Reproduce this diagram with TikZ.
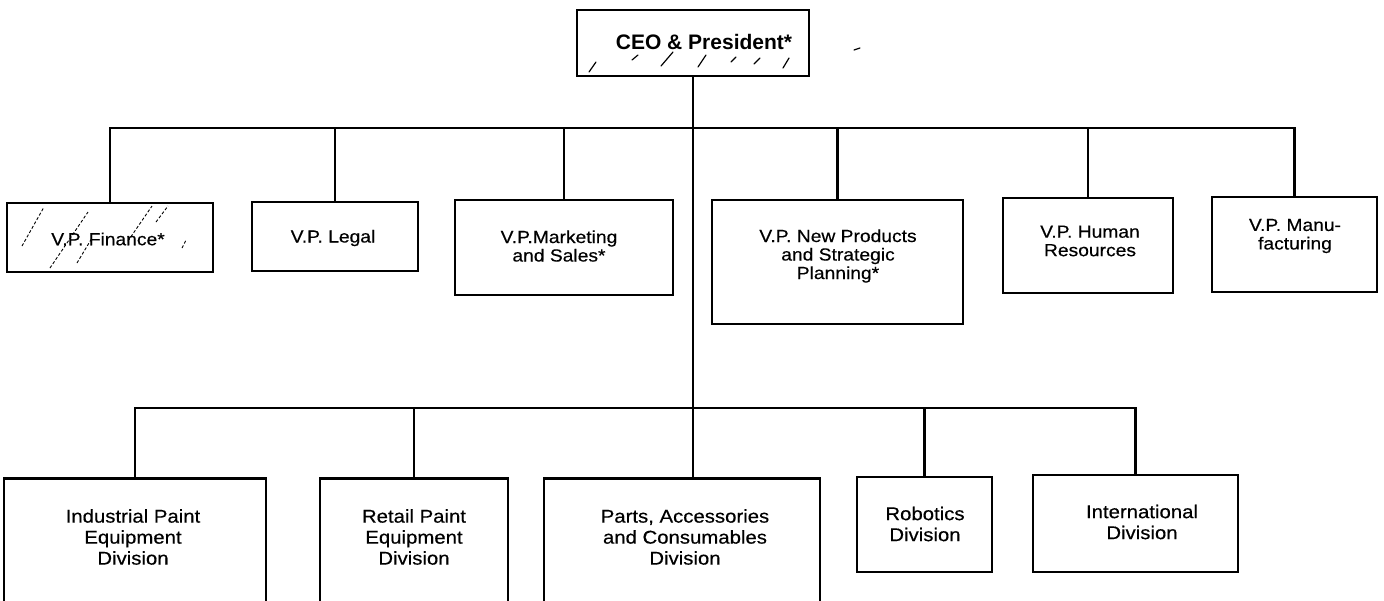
\documentclass[tikz,border=0pt]{standalone}
\usepackage{fontspec}
\setmainfont{Liberation Sans}
\newfontfamily\orgfont{Liberation Sans}[FakeStretch=1.1, FakeBold=0.4]
\begin{document}
\begin{tikzpicture}[x=1pt,y=-1pt,
  box/.style={draw, line width=2.6pt, rectangle, inner sep=0pt},
  vptxt/.style={inner sep=0pt, align=center, font=\orgfont\fontsize{17.5}{18.5}\selectfont},
  divtxt/.style={inner sep=0pt, align=center, font=\orgfont\fontsize{18.5}{21}\selectfont},
  conn/.style={line width=2.6pt, line cap=rect},
  hatch/.style={line width=0.9pt, dash pattern=on 3pt off 2pt},
  speck/.style={line width=1.2pt, line cap=round}]
\useasboundingbox (0,0) rectangle (1384,600);
\clip (0,0) rectangle (1384,600);

% top level
\node[box, minimum width=232, minimum height=66] (ceo) at (693,43) {};
\node[inner sep=0pt, font=\bfseries\fontsize{21}{24}\selectfont] (ceot) at (704,42) {CEO \& President*};

% vice presidents
\node[box, minimum width=206, minimum height=69] (fin) at (110,237.5) {};
\node[vptxt] (fint) at (108,239) {V.P. Finance*};
\node[box, minimum width=166, minimum height=69] (leg) at (335,236.5) {};
\node[vptxt] (legt) at (333,238) {V.P. Legal};
\node[box, minimum width=218, minimum height=95] (mkt) at (564,247.5) {};
\node[vptxt] (mktt) at (559,246) {V.P.Marketing\\and Sales*};
\node[box, minimum width=251, minimum height=124] (npr) at (837.5,262) {};
\node[vptxt] (nprt) at (838,256) {V.P. New Products\\and Strategic\\Planning*};
\node[box, minimum width=170, minimum height=95] (hrs) at (1088,245.5) {};
\node[vptxt] (hrst) at (1090,241) {V.P. Human\\Resources};
\node[box, minimum width=165, minimum height=95] (man) at (1294.5,244.5) {};
\node[vptxt] (mant) at (1295,236) {V.P. Manu-\\facturing};

% divisions (the large boxes run off the bottom edge)
\node[box, minimum width=262, minimum height=170, anchor=north] (ind) at (135,477) {};
\node[divtxt] (indt) at (133,537) {Industrial Paint\\Equipment\\Division};
\node[box, minimum width=188, minimum height=170, anchor=north] (ret) at (414,477) {};
\node[divtxt] (rett) at (414,537) {Retail Paint\\Equipment\\Division};
\node[box, minimum width=276, minimum height=170, anchor=north] (par) at (682,477) {};
\node[divtxt] (part) at (685,537) {Parts, Accessories\\and Consumables\\Division};
\node[box, minimum width=135, minimum height=95] (rob) at (924.5,524.5) {};
\node[divtxt] (robt) at (925,524) {Robotics\\Division};
\node[box, minimum width=205, minimum height=97] (int) at (1135.5,523.5) {};
\node[divtxt] (intt) at (1142,522) {International\\Division};

% bars
\coordinate (tb) at (0,128);
\coordinate (bb) at (0,408);

% connectors
\draw[conn] (ceo.south) -- (par.north -| ceo.south);
\draw[conn] (fin.north) |- (man.north |- tb) -- (man.north);
\draw[conn] (leg.north) -- (leg.north |- tb);
\draw[conn] (mkt.north) -- (mkt.north |- tb);
\draw[conn] (npr.north) -- (npr.north |- tb);
\draw[conn] (hrs.north) -- (hrs.north |- tb);
\draw[conn] (ind.north) |- (int.north |- bb) -- (int.north);
\draw[conn] (ret.north) -- (ret.north |- bb);
\draw[conn] (rob.north) -- (rob.north |- bb);

% scan hatching on the Finance box
\draw[hatch] (22,246) -- (44,207);
\draw[hatch] (50,268) -- (88,212);
\draw[hatch] (77,263) -- (92,238);
\draw[hatch] (128,241) -- (152,206);
\draw[hatch] (156,222) -- (168,206);
\draw[hatch] (182,248) -- (186,240);
% scan hatching on the CEO box
\draw[speck] (589,72) -- (596,62);
\draw[speck] (632,60) -- (638,55);
\draw[speck] (661,66) -- (673,52);
\draw[speck] (698,67) -- (706,55);
\draw[speck] (731,62) -- (736,57);
\draw[speck] (754,64) -- (760,58);
\draw[speck] (783,68) -- (789,58);
\draw[speck] (854,50) -- (860,48);
\end{tikzpicture}
\end{document}
